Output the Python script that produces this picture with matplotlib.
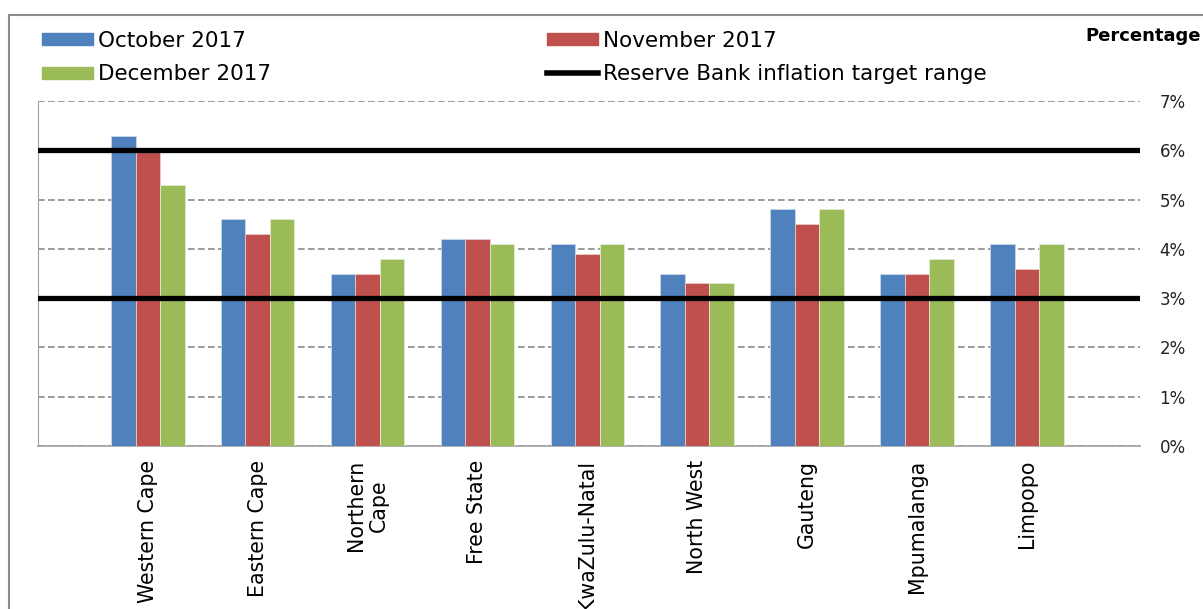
import numpy as np
import matplotlib.pyplot as plt
from matplotlib.patches import Patch, Rectangle
from matplotlib.lines import Line2D

provinces = ['Western Cape', 'Eastern Cape', 'Northern\nCape', 'Free State',
             'KwaZulu-Natal', 'North West', 'Gauteng', 'Mpumalanga', 'Limpopo']
oct17 = [6.3, 4.6, 3.5, 4.2, 4.1, 3.5, 4.8, 3.5, 4.1]
nov17 = [6.0, 4.3, 3.5, 4.2, 3.9, 3.3, 4.5, 3.5, 3.6]
dec17 = [5.3, 4.6, 3.8, 4.1, 4.1, 3.3, 4.8, 3.8, 4.1]
target = [3, 6]
yticks = [0, 1, 2, 3, 4, 5, 6, 7]

plt.rcParams['font.family'] = ['DejaVu Sans']

blue, red, green = '#4F81BD', '#C0504D', '#9BBB59'

fig = plt.figure(figsize=(12.03, 6.09), dpi=100)
ax = fig.add_axes([38/1203, 1-446/609, (1140-38)/1203, (446-101)/609])

# outer frame of the chart
fig.patches.append(Rectangle((9/1203, -0.1), 1.2, 1-15/609+0.1, transform=fig.transFigure,
                             fill=False, edgecolor='#8c8c8c', lw=1.5))

x = np.arange(len(provinces))
w = 0.223
ax.bar(x - w, oct17, w, color=blue, edgecolor='#c8d6ea', lw=0.6, zorder=3)
ax.bar(x, nov17, w, color=red, edgecolor='#ecc9c8', lw=0.6, zorder=3)
ax.bar(x + w, dec17, w, color=green, edgecolor='#e1ebcf', lw=0.6, zorder=3)

for t in target:
    ax.axhline(t, color='black', lw=3.8, zorder=4, solid_capstyle='round')

ax.set_xlim(-1, 9.03)
ax.set_ylim(0, 7)
ax.set_yticks(yticks)
ax.set_yticklabels([f'{v}%' for v in yticks], fontsize=12, color='#222222')
ax.yaxis.tick_right()
ax.tick_params(axis='y', length=0, pad=14)
ax.tick_params(axis='x', length=0, pad=10)
ax.set_xticks(x)
ax.set_xticklabels(provinces, rotation=90, fontsize=14.8, va='top', ha='center',
                   multialignment='center')
ax.yaxis.grid(True, color='#8a8a8a', ls=(0, (4, 2)), lw=1.2, zorder=0)
for s in ['top', 'right']:
    ax.spines[s].set_visible(False)
ax.spines['left'].set_color('#a0a0a0')
ax.spines['bottom'].set_color('#a0a0a0')
ax.spines['bottom'].set_linewidth(1.2)

fig.text(1085/1203, 1-36/609, 'Percentage', fontsize=13, fontweight='bold', va='center')

h1 = [Patch(color=blue, label='October 2017'), Patch(color=green, label='December 2017')]
h2 = [Patch(color=red, label='November 2017'),
      Line2D([], [], color='black', lw=4, label='Reserve Bank inflation target range')]
kw = dict(frameon=False, fontsize=15.5, handlelength=2.35, handleheight=0.5,
          handletextpad=0.25, labelspacing=0.62, borderpad=0, borderaxespad=0,
          loc='upper left')
fig.legend(handles=h1, bbox_to_anchor=(42/1203, 1-31/609), **kw)
fig.legend(handles=h2, bbox_to_anchor=(547/1203, 1-31/609), **kw)

fig.savefig('out.png', dpi=100)
